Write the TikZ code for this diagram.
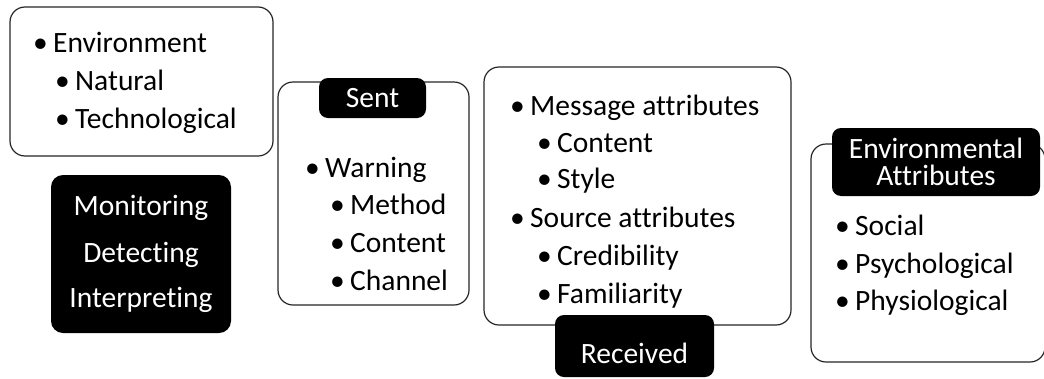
\documentclass[tikz,border=0pt]{standalone}
\usepackage{fontspec}
\setmainfont{Carlito}[Ligatures={NoCommon}]
\begin{document}
\begin{tikzpicture}[x=1pt,y=-1pt,
  wbox/.style={draw=black!85, line width=1.2pt, rounded corners=15pt, fill=white, inner sep=0pt},
  kbox/.style={fill=black, draw=none, rounded corners=9pt, inner sep=0pt},
  txt/.style={anchor=base west, inner sep=0pt, font=\fontsize{29.5}{34}\selectfont},
  wtxt/.style={anchor=base, inner sep=0pt, text=white, font=\fontsize{29.5}{34}\selectfont}]
\useasboundingbox (0,0) rectangle (1044,378);
\newcommand{\bul}{\makebox[20pt][l]{•}}
% Box 1
\node[wbox, minimum width=263pt, minimum height=149pt] (env) at (141.5,81.5) {};
\node[txt] (env1) at (33,52) {\bul Environment};
\node[txt] (env2) at (55,90) {\bul Natural};
\node[txt] (env3) at (55,128) {\bul Technological};
% Monitoring box
\node[kbox, rounded corners=12pt, minimum width=180pt, minimum height=158pt] (mdi) at (141,254) {};
\node[wtxt] (mdi1) at (141,215) {Monitoring};
\node[wtxt] (mdi2) at (141,262) {Detecting};
\node[wtxt] (mdi3) at (141,307) {Interpreting};
% Sent
\node[wbox, minimum width=191pt, minimum height=223pt] (sent) at (373.5,193.5) {};
\node[kbox, minimum width=107pt, minimum height=40pt] (sentlab) at (372.5,98) {};
\node[wtxt] (senttxt) at (372.5,107) {Sent};
\node[txt] (s1) at (305,177) {\bul Warning};
\node[txt] (s2) at (330,214) {\bul Method};
\node[txt] (s3) at (330,252) {\bul Content};
\node[txt] (s4) at (330,290) {\bul Channel};
% Received
\node[wbox, minimum width=307pt, minimum height=258pt] (recv) at (637.5,196) {};
\node[kbox, minimum width=159pt, minimum height=62pt] (recvlab) at (634.5,346) {};
\node[wtxt] (recvtxt) at (634.5,363) {Received};
\node[txt] (r1) at (510,115) {\bul Message attributes};
\node[txt] (r2) at (537,152) {\bul Content};
\node[txt] (r3) at (537,188) {\bul Style};
\node[txt] (r4) at (510,227) {\bul Source attributes};
\node[txt] (r5) at (537,265) {\bul Credibility};
\node[txt] (r6) at (537,303) {\bul Familiarity};
% Environmental attributes
\node[wbox, minimum width=234pt, minimum height=218pt] (ea) at (928,253) {};
\node[kbox, minimum width=208pt, minimum height=68pt] (ealab) at (936,162) {};
\node[wtxt] (ea1) at (936,158) {Environmental};
\node[wtxt] (ea2) at (936,185) {Attributes};
\node[txt] (e1) at (835,235) {\bul Social};
\node[txt] (e2) at (835,273) {\bul Psychological};
\node[txt] (e3) at (835,310) {\bul Physiological};
\end{tikzpicture}
\end{document}
